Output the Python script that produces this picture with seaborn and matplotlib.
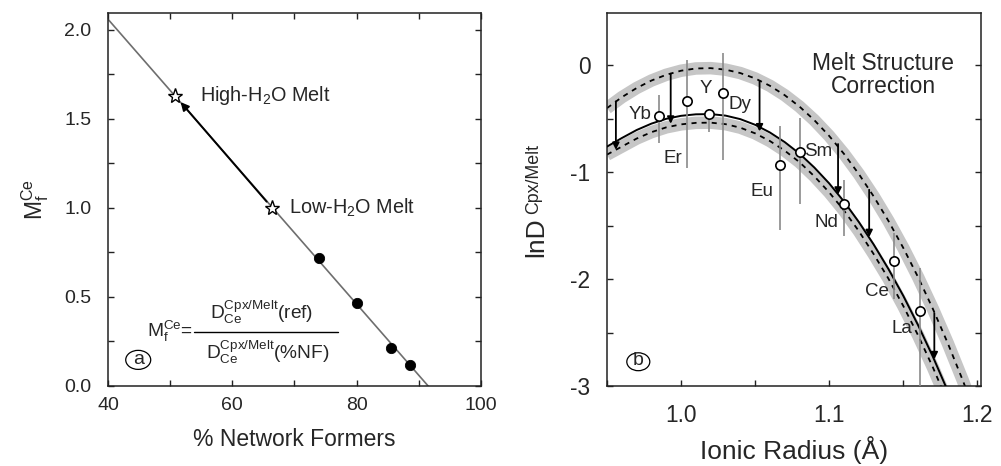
import numpy as np
import pandas as pd
import matplotlib
matplotlib.use("Agg")
import matplotlib.pyplot as plt
import seaborn as sns
from matplotlib.ticker import MultipleLocator, FixedLocator, FormatStrFormatter
from matplotlib.lines import Line2D
from matplotlib.patches import Ellipse

# ---------------- data: panel (a) ----------------
nf_line = [40.0, 91.5]
mf_line = [2.06, 0.0]
nf_dots = [74.0, 80.0, 85.6, 88.6]
mf_dots = [0.717, 0.468, 0.212, 0.118]
nf_stars = [66.4, 50.8]
mf_stars = [1.0, 1.63]
star_labels = ["Low-H$_2$O Melt", "High-H$_2$O Melt"]

# ---------------- data: panel (b) ----------------
radius_grid = [0.95, 0.96, 0.97, 0.98, 0.99, 1.00, 1.01, 1.02, 1.03, 1.04, 1.05, 1.06, 1.07,
               1.08, 1.09, 1.10, 1.11, 1.12, 1.13, 1.14, 1.15, 1.16, 1.17, 1.18, 1.19, 1.20]
lnD_fit = [-0.76, -0.68, -0.605, -0.545, -0.50, -0.472, -0.458, -0.456, -0.47, -0.503, -0.556,
           -0.628, -0.718, -0.826, -0.956, -1.104, -1.274, -1.465, -1.675, -1.905, -2.155,
           -2.43, -2.725, -3.045, -3.39, -3.76]
lnD_low = [-0.835, -0.76, -0.685, -0.625, -0.58, -0.552, -0.538, -0.536, -0.55, -0.583, -0.636,
           -0.708, -0.798, -0.906, -1.038, -1.188, -1.358, -1.55, -1.765, -1.995, -2.25,
           -2.525, -2.825, -3.15, -3.5, -3.87]
lnD_high = [-0.40, -0.298, -0.212, -0.142, -0.088, -0.050, -0.029, -0.026, -0.040, -0.072,
            -0.122, -0.191, -0.279, -0.386, -0.513, -0.660, -0.828, -1.016, -1.225, -1.455,
            -1.707, -1.981, -2.278, -2.597, -2.940, -3.305]

elements = ["Yb", "Er", "Y", "Dy", "Eu", "Sm", "Nd", "Ce", "La"]
radius_el = [0.985, 1.004, 1.019, 1.028, 1.067, 1.080, 1.110, 1.144, 1.161]
lnD_el = [-0.471, -0.33, -0.459, -0.259, -0.936, -0.815, -1.30, -1.835, -2.30]
lnD_el_hi = [-0.275, 0.053, -0.41, 0.116, -0.565, -0.49, -1.07, -1.57, -1.90]
lnD_el_lo = [-0.727, -0.96, -0.62, -0.89, -1.545, -1.295, -1.60, -2.19, -3.10]

arrow_radius = [0.956, 0.993, 1.053, 1.106, 1.127, 1.171]
arrow_start = [-0.337, -0.078, -0.15, -0.736, -1.164, -2.318]
arrow_end = [-0.79, -0.546, -0.618, -1.21, -1.607, -2.75]

# ---------------- style ----------------
sns.set_theme(style="ticks")
plt.rcParams["font.family"] = ["Liberation Sans", "DejaVu Sans"]
plt.rcParams["mathtext.fontset"] = "custom"
plt.rcParams["mathtext.rm"] = "Liberation Sans"
plt.rcParams["mathtext.it"] = "Liberation Sans"
plt.rcParams["mathtext.bf"] = "Liberation Sans:bold"
plt.rcParams["axes.unicode_minus"] = False
plt.rcParams["axes.edgecolor"] = "#222222"

fig = plt.figure(figsize=(10.01, 4.66), dpi=100)
ax1 = fig.add_axes([0.1079, 0.1717, 0.3726, 0.8004])
ax2 = fig.add_axes([0.6064, 0.1717, 0.3736, 0.8004])

# ================= panel (a) =================
df_line = pd.DataFrame({"nf": nf_line, "mf": mf_line})
sns.lineplot(data=df_line, x="nf", y="mf", ax=ax1, color="#6e6e6e", lw=1.2, zorder=2)
ax1.annotate("", xy=(nf_stars[1], mf_stars[1]), xytext=(nf_stars[0], mf_stars[0]),
             arrowprops=dict(arrowstyle="-|>", color="black", lw=1.4, shrinkA=6, shrinkB=6,
                             mutation_scale=12), zorder=3)
df_dots = pd.DataFrame({"nf": nf_dots, "mf": mf_dots})
sns.scatterplot(data=df_dots, x="nf", y="mf", ax=ax1, color="black", s=55,
                edgecolor="black", zorder=5)
ax1.plot(nf_stars, mf_stars, ls="none", marker="*", ms=11, mfc="white", mec="black",
         mew=1.0, zorder=6)
star_offsets = [(12.5, 0), (18, 0)]
for x, y, lab, off in zip(nf_stars, mf_stars, star_labels, star_offsets):
    ax1.annotate(lab, xy=(x, y), xytext=off, textcoords="offset points",
                 ha="left", va="center", fontsize=14.3)

# formula
FS = 13.8
ax1.text(0.228, 0.132, r"$\mathregular{M_f^{Ce}}$=", transform=ax1.transAxes,
         ha="right", va="baseline", fontsize=FS)
ax1.text(0.412, 0.180, r"$\mathregular{D_{Ce}^{Cpx/Melt}(ref)}$", transform=ax1.transAxes,
         ha="center", va="baseline", fontsize=FS)
ax1.text(0.428, 0.0716, r"$\mathregular{D_{Ce}^{Cpx/Melt}(\%NF)}$", transform=ax1.transAxes,
         ha="center", va="baseline", fontsize=FS)
ax1.add_line(Line2D([0.231, 0.617], [0.144, 0.144], transform=ax1.transAxes,
                    color="black", lw=1.0))
ax1.text(0.081, 0.072, "a", transform=ax1.transAxes, ha="center", va="center", fontsize=14)
ax1.add_patch(Ellipse((0.081, 0.070), 0.067, 0.051, transform=ax1.transAxes, fill=False,
                      ec="black", lw=0.9))

ax1.set_xlim(40, 100)
ax1.set_ylim(0, 2.095)
ax1.xaxis.set_major_locator(FixedLocator([40, 60, 80, 100]))
ax1.xaxis.set_minor_locator(MultipleLocator(10))
ax1.yaxis.set_major_locator(MultipleLocator(0.5))
ax1.yaxis.set_minor_locator(MultipleLocator(0.25))
ax1.yaxis.set_major_formatter(FormatStrFormatter("%.1f"))
ax1.tick_params(which="both", direction="in", top=True, right=True, length=4, width=1.0,
                labelsize=14, color="#222222")
ax1.tick_params(axis="x", pad=8)
ax1.tick_params(axis="y", pad=12)
ax1.set_xlabel("% Network Formers", fontsize=16.5)
ax1.set_ylabel(r"$\mathregular{M_f^{Ce}}$", fontsize=16.5)
ax1.xaxis.set_label_coords(0.5, -0.1126)
ax1.yaxis.set_label_coords(-0.153, 0.5)

# ================= panel (b) =================
for curve in (lnD_high, lnD_low):
    ax2.plot(radius_grid, curve, color="#c6c6c6", lw=9, solid_capstyle="butt", zorder=1)
    ax2.plot(radius_grid, curve, color="black", lw=1.3, ls=(0, (2.8, 2.8)), zorder=2)
df_fit = pd.DataFrame({"r": radius_grid, "lnD": lnD_fit})
sns.lineplot(data=df_fit, x="r", y="lnD", ax=ax2, color="black", lw=1.4, zorder=3)

ax2.vlines(radius_el, lnD_el_lo, lnD_el_hi, color="#8a8a8a", lw=1.2, zorder=4)
for r, a, b in zip(arrow_radius, arrow_start, arrow_end):
    ax2.annotate("", xy=(r, b), xytext=(r, a),
                 arrowprops=dict(arrowstyle="-|>", color="black", lw=1.3, shrinkA=0,
                                 shrinkB=0, mutation_scale=10), zorder=5)
df_el = pd.DataFrame({"r": radius_el, "lnD": lnD_el, "el": elements})
sns.scatterplot(data=df_el, x="r", y="lnD", ax=ax2, marker="o", s=45, color="white",
                edgecolor="black", linewidth=1.2, zorder=6)
label_offsets_px = [(-19, 1), (-14, -58), (-3, 26), (17, -11), (-18, -26), (19, 1),
                    (-18, -18), (-17, -30), (-18, -17)]
for r, v, el, (dx, dy) in zip(radius_el, lnD_el, elements, label_offsets_px):
    ax2.annotate(el, xy=(r, v), xytext=(dx * 0.72, dy * 0.72), textcoords="offset points",
                 ha="center", va="center", fontsize=13.5, zorder=7)

ax2.text(0.738, 0.835, "Melt Structure\nCorrection", transform=ax2.transAxes,
         ha="center", va="center", fontsize=16.4, linespacing=1.0)
ax2.text(0.0837, 0.067, "b", transform=ax2.transAxes, ha="center", va="center", fontsize=14)
ax2.add_patch(Ellipse((0.0837, 0.065), 0.0615, 0.048, transform=ax2.transAxes, fill=False,
                      ec="black", lw=0.9))

ax2.set_xlim(0.95, 1.2025)
ax2.set_ylim(-3, 0.49)
ax2.xaxis.set_major_locator(FixedLocator([1.0, 1.1, 1.2]))
ax2.xaxis.set_minor_locator(MultipleLocator(0.05))
ax2.xaxis.set_major_formatter(FormatStrFormatter("%.1f"))
ax2.yaxis.set_major_locator(MultipleLocator(1))
ax2.yaxis.set_minor_locator(MultipleLocator(0.5))
ax2.yaxis.set_major_formatter(FormatStrFormatter("%d"))
ax2.tick_params(which="both", direction="in", top=False, right=True, length=4, width=1.0,
                labelsize=16.4, color="#222222")
ax2.tick_params(axis="x", pad=13)
ax2.tick_params(axis="y", pad=12)
ax2.set_xlabel("Ionic Radius (Å)", fontsize=19)
ax2.set_ylabel("")
ax2.xaxis.set_label_coords(0.5, -0.135)
# y label: "lnD" with smaller, slightly raised "Cpx/Melt"
fig.text(543 / 1001, 1 - 257 / 466, "lnD", rotation=90, rotation_mode="anchor",
         ha="left", va="baseline", fontsize=19)
fig.text(538 / 1001, 1 - 214 / 466, "Cpx/Melt", rotation=90, rotation_mode="anchor",
         ha="left", va="baseline", fontsize=12.8)

for ax in (ax1, ax2):
    for s in ax.spines.values():
        s.set_visible(True)
        s.set_linewidth(1.1)

fig.savefig("out.png", dpi=100)
